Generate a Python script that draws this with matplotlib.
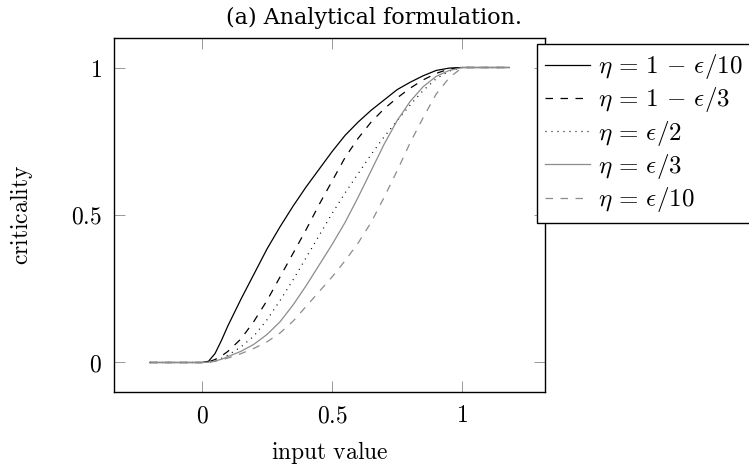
import matplotlib.pyplot as plt
import numpy as np

plt.rcParams['mathtext.fontset'] = 'cm'
plt.rcParams['font.family'] = 'serif'
plt.rcParams['font.serif'] = ['DejaVu Serif']

# input values (x) shared by all curves
x = [-0.2, 0.0, 0.025, 0.05, 0.075, 0.1, 0.15, 0.2, 0.25, 0.3, 0.35, 0.4, 0.45, 0.5,
     0.55, 0.6, 0.65, 0.7, 0.75, 0.8, 0.85, 0.9, 0.95, 1.0, 1.18]

# criticality for each eta
y_1m_eps10 = [0, 0, 0.004, 0.03, 0.075, 0.125, 0.215, 0.30, 0.385, 0.46, 0.53, 0.595, 0.655, 0.715,
              0.77, 0.815, 0.855, 0.89, 0.925, 0.95, 0.972, 0.99, 0.998, 1.0, 1.0]
y_1m_eps3 = [0, 0, 0.002, 0.01, 0.022, 0.038, 0.08, 0.14, 0.21, 0.29, 0.37, 0.45, 0.535, 0.615,
             0.695, 0.76, 0.815, 0.86, 0.897, 0.93, 0.958, 0.98, 0.995, 1.0, 1.0]
y_eps2 = [0, 0, 0.001, 0.006, 0.014, 0.025, 0.053, 0.09, 0.145, 0.21, 0.28, 0.355, 0.43, 0.505,
          0.575, 0.64, 0.705, 0.765, 0.82, 0.873, 0.922, 0.962, 0.988, 1.0, 1.0]
y_eps3 = [0, 0, 0.001, 0.005, 0.011, 0.02, 0.038, 0.062, 0.095, 0.138, 0.195, 0.26, 0.33, 0.40,
          0.475, 0.56, 0.65, 0.74, 0.82, 0.885, 0.935, 0.97, 0.99, 1.0, 1.0]
y_eps10 = [0, 0, 0.001, 0.004, 0.009, 0.015, 0.03, 0.048, 0.07, 0.10, 0.14, 0.19, 0.24, 0.29,
           0.345, 0.405, 0.475, 0.56, 0.65, 0.745, 0.83, 0.91, 0.965, 1.0, 1.0]

labels = [r'$\eta \,=\, 1 \,-\, \epsilon/10$', r'$\eta \,=\, 1 \,-\, \epsilon/3$',
          r'$\eta \,=\, \epsilon/2$', r'$\eta \,=\, \epsilon/3$', r'$\eta \,=\, \epsilon/10$']

fig = plt.figure(figsize=(7.49, 4.68), dpi=100)
ax = fig.add_axes([0.1522, 0.1624, 0.5754, 0.7564])

lw = 0.9
ax.plot(x, y_1m_eps10, color='black', lw=lw, label=labels[0])
ax.plot(x, y_1m_eps3, color='black', lw=lw, dashes=(6, 6), label=labels[1])
ax.plot(x, y_eps2, color='black', lw=lw, dashes=(0.8, 4), label=labels[2])
ax.plot(x, y_eps3, color='#8c8c8c', lw=lw, label=labels[3])
ax.plot(x, y_eps10, color='#8c8c8c', lw=lw, dashes=(6, 6), label=labels[4])

ax.set_xlim(-0.338, 1.318)
ax.set_ylim(-0.1, 1.1)
ax.set_xticks([0, 0.5, 1])
ax.set_xticklabels(['$0$', '$0.5$', '$1$'])
ax.set_yticks([0, 0.5, 1])
ax.set_yticklabels(['$0$', '$0.5$', '$1$'])
ax.tick_params(direction='in', length=8, width=0.6, color='#888888',
               top=True, right=True, labelsize=17, pad=9)
for s in ax.spines.values():
    s.set_linewidth(1.0)

ax.set_xlabel(r'$\mathrm{input\ value}$', fontsize=17, labelpad=8)
ax.set_ylabel(r'$\mathrm{criticality}$', fontsize=17, labelpad=26)

fig.text(0.5, 0.962, '(a) Analytical formulation.', ha='center', va='center', fontsize=16)

leg = ax.legend(loc='upper left', bbox_to_anchor=(537 / 749, 1 - 44 / 468),
                bbox_transform=fig.transFigure, fontsize=18, frameon=True,
                fancybox=False, edgecolor='black', framealpha=1,
                handlelength=1.8, handletextpad=0.3, labelspacing=0.17,
                borderpad=0.33, borderaxespad=0)
leg.get_frame().set_linewidth(1.0)

fig.savefig('out.png', dpi=100)
